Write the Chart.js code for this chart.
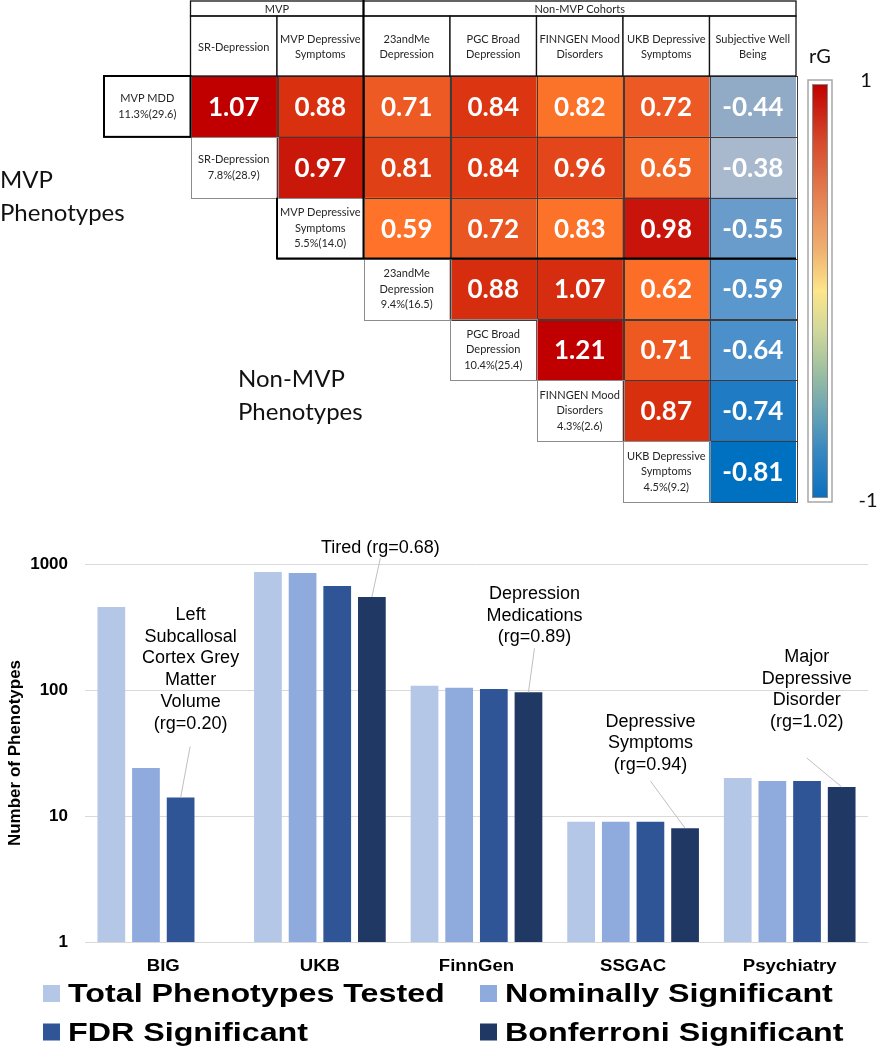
<!DOCTYPE html>
<html><head><meta charset="utf-8">
<script src="https://cdn.jsdelivr.net/npm/chart.js@4.4.1/dist/chart.umd.min.js"></script>
<style>
html,body{margin:0;padding:0;background:#fff;width:879px;height:1050px;overflow:hidden}
#top{position:absolute;left:0;top:0;width:879px;height:520px}
#bot{position:absolute;left:0;top:520px;width:879px;height:530px}
canvas{display:block}
</style></head><body>
<div id="top"><canvas id="c1" width="879" height="520"></canvas></div>
<div id="bot"><canvas id="c2" width="879" height="530"></canvas></div>
<script>
// ================= Heatmap data =================
const groupHeaders = ["MVP", "Non-MVP Cohorts"];
const groupSpans = [[0, 1], [2, 6]];
const columnHeaders = [["SR-Depression"], ["MVP Depressive", "Symptoms"], ["23andMe", "Depression"], ["PGC Broad", "Depression"], ["FINNGEN Mood", "Disorders"], ["UKB Depressive", "Symptoms"], ["Subjective Well", "Being"]];
const rowLabels = [["MVP MDD", "11.3%(29.6)"], ["SR-Depression", "7.8%(28.9)"], ["MVP Depressive", "Symptoms", "5.5%(14.0)"], ["23andMe", "Depression", "9.4%(16.5)"], ["PGC Broad", "Depression", "10.4%(25.4)"], ["FINNGEN Mood", "Disorders", "4.3%(2.6)"], ["UKB Depressive", "Symptoms", "4.5%(9.2)"]];
const rgRow0 = [1.07, 0.88, 0.71, 0.84, 0.82, 0.72, -0.44];
const rgRow1 = [0.97, 0.81, 0.84, 0.96, 0.65, -0.38];
const rgRow2 = [0.59, 0.72, 0.83, 0.98, -0.55];
const rgRow3 = [0.88, 1.07, 0.62, -0.59];
const rgRow4 = [1.21, 0.71, -0.64];
const rgRow5 = [0.87, -0.74];
const rgRow6 = [-0.81];
const rgRows = [rgRow0, rgRow1, rgRow2, rgRow3, rgRow4, rgRow5, rgRow6];
const sideLabels = [["MVP", "Phenotypes"], ["Non-MVP", "Phenotypes"]];
const colorBarTitle = "rG";
const colorBarTicks = ["1", "-1"];

// styles (kept apart from values)
const cellColors = [
  ['#c00000', '#d9300f', '#ee5a24', '#dc3511', '#fb7229', '#ec5924', '#91aac6'],
  ['#c9180a', '#e04015', '#dd3a14', '#e4461b', '#f26728', '#a9b9cd'],
  ['#fe7329', '#ea5622', '#fc7229', '#c8140a', '#6a9ccb'],
  ['#d62d0f', '#d62c10', '#fc6e28', '#5a97cc'],
  ['#c00000', '#ee5922', '#4b8fcb'],
  ['#d8300f', '#1f7cc4'],
  ['#0070c0']
];

const cellData = [];
rgRows.forEach((vals, r) => vals.forEach((v, k) => cellData.push({x: r + k, y: [r, r + 1], r: r, k: k, v: v})));
const labelData = rowLabels.map((lab, r) => ({x: r - 1, y: [r, r + 1], r: r}));

const LATO = 'Lato, "Noto Sans", sans-serif';

const heatPlugin = {
  id: 'heat',
  afterDatasetsDraw(chart) {
    const {ctx, chartArea: ca, scales: {x: xs, y: ys}} = chart;
    const L = c => xs.getPixelForValue(c - 0.5), R = c => xs.getPixelForValue(c + 0.5);
    const T = r => ys.getPixelForValue(r), B = r => ys.getPixelForValue(r + 1);
    ctx.save();
    // data cells: borders + values
    const m0 = chart.getDatasetMeta(0);
    m0.data.forEach((el, i) => {
      const raw = cellData[i];
      const x0 = L(raw.x), x1 = R(raw.x), y0 = T(raw.r), y1 = B(raw.r);
      ctx.strokeStyle = '#3c3c3c'; ctx.lineWidth = 1;
      ctx.strokeRect(Math.round(x0) + 0.5, Math.round(y0) + 0.5, Math.round(x1 - x0), Math.round(y1 - y0));
      ctx.fillStyle = '#ffffff';
      ctx.font = 'bold 26px ' + LATO;
      ctx.textAlign = 'center'; ctx.textBaseline = 'middle';
      ctx.fillText(raw.v.toFixed(2), (x0 + x1) / 2, (y0 + y1) / 2 + 1);
    });
    // row label cells
    const m1 = chart.getDatasetMeta(1);
    m1.data.forEach((el, i) => {
      const raw = labelData[i];
      const x0 = L(raw.x), x1 = R(raw.x), y0 = T(raw.r), y1 = B(raw.r);
      ctx.strokeStyle = '#8c8c8c'; ctx.lineWidth = 1;
      ctx.strokeRect(Math.round(x0) + 0.5, Math.round(y0) + 0.5, Math.round(x1 - x0), Math.round(y1 - y0));
      const lines = rowLabels[raw.r];
      ctx.fillStyle = '#262626'; ctx.font = '11px ' + LATO;
      ctx.textAlign = 'center'; ctx.textBaseline = 'middle';
      const lh = 15.5, cy = (y0 + y1) / 2;
      lines.forEach((t, j) => ctx.fillText(t, (x0 + x1) / 2, cy + (j - (lines.length - 1) / 2) * lh));
    });
    // column headers
    const hTop = ca.top - 60;
    columnHeaders.forEach((lines, c) => {
      const x0 = L(c), x1 = R(c);
      ctx.fillStyle = '#fff'; ctx.fillRect(x0, hTop, x1 - x0, 60);
      ctx.strokeStyle = '#111'; ctx.lineWidth = 1.3;
      ctx.strokeRect(x0, hTop, x1 - x0, 60);
      ctx.fillStyle = '#262626'; ctx.font = '11px ' + LATO;
      ctx.textAlign = 'center'; ctx.textBaseline = 'middle';
      lines.forEach((t, j) => ctx.fillText(t, (x0 + x1) / 2, hTop + 31 + (j - (lines.length - 1) / 2) * 15));
    });
    // group headers
    groupHeaders.forEach((t, g) => {
      const x0 = L(groupSpans[g][0]), x1 = R(groupSpans[g][1]);
      ctx.strokeStyle = '#111'; ctx.lineWidth = 1.3;
      ctx.strokeRect(x0, 1, x1 - x0, hTop - 1);
      ctx.fillStyle = '#262626'; ctx.font = '11px ' + LATO;
      ctx.textAlign = 'center'; ctx.textBaseline = 'middle';
      ctx.fillText(t, (x0 + x1) / 2, hTop / 2 + 1);
    });
    // thick black outlines of the MVP block
    ctx.strokeStyle = '#000'; ctx.lineWidth = 2;
    ctx.strokeRect(L(-1), T(0), R(-1) - L(-1), B(0) - T(0));
    ctx.beginPath();
    ctx.moveTo(L(2), 0); ctx.lineTo(L(2), B(2));
    ctx.moveTo(L(1), T(2)); ctx.lineTo(L(1), B(2)); ctx.lineTo(R(6), B(2));
    ctx.stroke();
    // side labels
    ctx.fillStyle = '#111'; ctx.font = '24px ' + LATO;
    ctx.textAlign = 'left'; ctx.textBaseline = 'middle';
    ctx.fillText(sideLabels[0][0], 0, ys.getPixelForValue(1.71));
    ctx.fillText(sideLabels[0][1], 0, ys.getPixelForValue(2.25));
    ctx.fillText(sideLabels[1][0], ca.left + 134, ys.getPixelForValue(4.99));
    ctx.fillText(sideLabels[1][1], ca.left + 134, ys.getPixelForValue(5.52));
    // colour bar
    const cbL = ca.right + 12, cbT = ca.top + 4, cbW = 24, cbB = ca.bottom;
    ctx.fillStyle = '#fff';
    ctx.strokeStyle = '#a6a6a6'; ctx.lineWidth = 1.5;
    ctx.strokeRect(cbL, cbT, cbW, cbB - cbT);
    const g = ctx.createLinearGradient(0, cbT + 4, 0, cbB - 4);
    [[0, '#c00000'], [0.14, '#d64a2c'], [0.28, '#e58455'], [0.40, '#f0b070'], [0.50, '#fde58a'], [0.59, '#d3d99a'], [0.69, '#a0c0a0'], [0.79, '#6aa5b5'], [0.88, '#3a8ac0'], [1, '#0a70c0']].forEach(s => g.addColorStop(s[0], s[1]));
    ctx.fillStyle = g;
    ctx.fillRect(cbL + 4, cbT + 4, cbW - 8, cbB - cbT - 8);
    ctx.strokeStyle = '#8a8a8a'; ctx.lineWidth = 1;
    ctx.strokeRect(cbL + 4.5, cbT + 4.5, cbW - 9, cbB - cbT - 9);
    ctx.fillStyle = '#111'; ctx.font = '20px ' + LATO;
    ctx.textAlign = 'center'; ctx.textBaseline = 'middle';
    ctx.fillText(colorBarTitle, cbL + cbW / 2, cbT - 23);
    ctx.fillText(colorBarTicks[0], cbL + 58, cbT + 1);
    ctx.fillText(colorBarTicks[1], cbL + 60, cbB - 1);
    ctx.restore();
  }
};

new Chart(document.getElementById('c1'), {
  type: 'bar',
  data: {
    datasets: [
      {label: 'rG', data: cellData, grouped: false, barPercentage: 1, categoryPercentage: 1, borderWidth: 0,
       backgroundColor: ctx => { const d = cellData[ctx.dataIndex]; return d ? cellColors[d.r][d.k] : '#fff'; }},
      {label: 'Phenotype', data: labelData, grouped: false, barPercentage: 1, categoryPercentage: 1, borderWidth: 0, backgroundColor: '#ffffff'}
    ]
  },
  options: {
    responsive: false, animation: false, devicePixelRatio: 1,
    layout: {padding: {left: 104, right: 83, top: 76, bottom: 18}},
    scales: {
      x: {type: 'linear', min: -1.5, max: 6.5, offset: false, display: false,
          afterBuildTicks: s => { s.ticks = [-1, 0, 1, 2, 3, 4, 5, 6].map(v => ({value: v})); }},
      y: {type: 'linear', min: 0, max: 7, reverse: true, display: false}
    },
    plugins: {legend: {display: false}, tooltip: {enabled: false}}
  },
  plugins: [heatPlugin]
});

// ================= Bar chart data =================
const groups = ['BIG', 'UKB', 'FinnGen', 'SSGAC', 'Psychiatry'];
const seriesNames = ['Total Phenotypes Tested', 'Nominally Significant', 'FDR Significant', 'Bonferroni Significant'];
const totalTested = [456, 865, 108, 9, 20];
const nominallySig = [24, 850, 104, 9, 19];
const fdrSig = [14, 669, 102, 9, 19];
const bonferroniSig = [null, 547, 96, 8, 17];
const yTicks = [1, 10, 100, 1000];
const yTitle = 'Number of Phenotypes';
const calloutTexts = [
  ['Left', 'Subcallosal', 'Cortex Grey', 'Matter', 'Volume', '(rg=0.20)'],
  ['Tired (rg=0.68)'],
  ['Depression', 'Medications', '(rg=0.89)'],
  ['Depressive', 'Symptoms', '(rg=0.94)'],
  ['Major', 'Depressive', 'Disorder', '(rg=1.02)']
];
const calloutTargets = [[2, 0], [3, 1], [3, 2], [3, 3], [3, 4]]; // [series, group]

// styles / layout
const barColors = ['#b4c7e7', '#8faadc', '#2f5597', '#203864'];
const calloutLayout = [
  {dx: 10, dy: -74, lx: 9.5, ly: -51},
  {dx: 8.5, dy: -49, lx: 8.5, ly: -39},
  {dx: 6, dy: -55, lx: 6, ly: -44},
  {dx: -34.5, dy: -63, lx: -34.5, ly: -47},
  {dx: -35, dy: -65, lx: -35, ly: -29}
];
const ARIAL = '"Liberation Sans", Arial, sans-serif';

const calloutPlugin = {
  id: 'callouts',
  afterDatasetsDraw(chart) {
    const ctx = chart.ctx;
    ctx.save();
    calloutTargets.forEach(([ds, gi], k) => {
      const el = chart.getDatasetMeta(ds).data[gi];
      const x = el.x, y = el.y, lay = calloutLayout[k];
      ctx.strokeStyle = '#bfbfbf'; ctx.lineWidth = 1;
      ctx.beginPath(); ctx.moveTo(x + lay.lx, y + lay.ly); ctx.lineTo(x, y); ctx.stroke();
      const lines = calloutTexts[k], n = lines.length;
      ctx.fillStyle = '#000'; ctx.font = '18px ' + ARIAL;
      ctx.textAlign = 'center'; ctx.textBaseline = 'middle';
      lines.forEach((t, i) => ctx.fillText(t, x + lay.dx, y + lay.dy - (n - 1 - i) * 21.7));
    });
    ctx.restore();
  }
};

const axisLegendPlugin = {
  id: 'axisLegend',
  afterDraw(chart) {
    const {ctx, chartArea: ca, scales: {x: xs}} = chart;
    ctx.save();
    // category labels (stretched bold)
    ctx.fillStyle = '#000'; ctx.font = 'bold 16px ' + ARIAL;
    ctx.textAlign = 'center'; ctx.textBaseline = 'alphabetic';
    groups.forEach((g, i) => {
      const px = xs.getPixelForValue(i);
      ctx.save(); ctx.translate(px, ca.bottom + 29); ctx.scale(1.16, 1);
      ctx.fillText(g, 0, 0); ctx.restore();
    });
    // legend 2x2
    const cols = [43, 480], rows = [ca.bottom + 60, ca.bottom + 98.5];
    chart.data.datasets.forEach((ds, i) => {
      const cx = cols[i % 2], by = rows[Math.floor(i / 2)];
      ctx.fillStyle = ds.backgroundColor;
      ctx.fillRect(cx, by - 17, 17, 17);
      ctx.fillStyle = '#000'; ctx.font = 'bold 26px ' + ARIAL;
      ctx.textAlign = 'left'; ctx.textBaseline = 'alphabetic';
      ctx.save(); ctx.translate(cx + 25, by); ctx.scale(1.24, 1);
      ctx.fillText(ds.label, 0, 0); ctx.restore();
    });
    ctx.restore();
  }
};

new Chart(document.getElementById('c2'), {
  type: 'bar',
  data: {
    labels: groups,
    datasets: [totalTested, nominallySig, fdrSig, bonferroniSig].map((d, i) => ({
      label: seriesNames[i], data: d, backgroundColor: barColors[i], borderWidth: 0,
      categoryPercentage: 0.885, barPercentage: 0.8
    }))
  },
  options: {
    responsive: false, animation: false, devicePixelRatio: 1,
    layout: {padding: {left: 0, right: 11, top: 44, bottom: 108}},
    scales: {
      x: {display: false},
      y: {
        type: 'logarithmic', min: 1, max: 1000,
        afterBuildTicks: s => { s.ticks = yTicks.map(v => ({value: v})); },
        afterFit: s => { s.width = 85; },
        grid: {color: '#d9d9d9', drawTicks: false},
        border: {display: false},
        ticks: {padding: 17, color: '#000', autoSkip: false,
                font: {family: ARIAL, weight: 'bold', size: 17}, callback: v => String(v)},
        title: {display: true, text: yTitle, color: '#000',
                font: {family: ARIAL, weight: 'bold', size: 17}, padding: {top: 5, bottom: 0}}
      }
    },
    plugins: {legend: {display: false}, tooltip: {enabled: false}}
  },
  plugins: [calloutPlugin, axisLegendPlugin]
});
</script>
</body></html>
